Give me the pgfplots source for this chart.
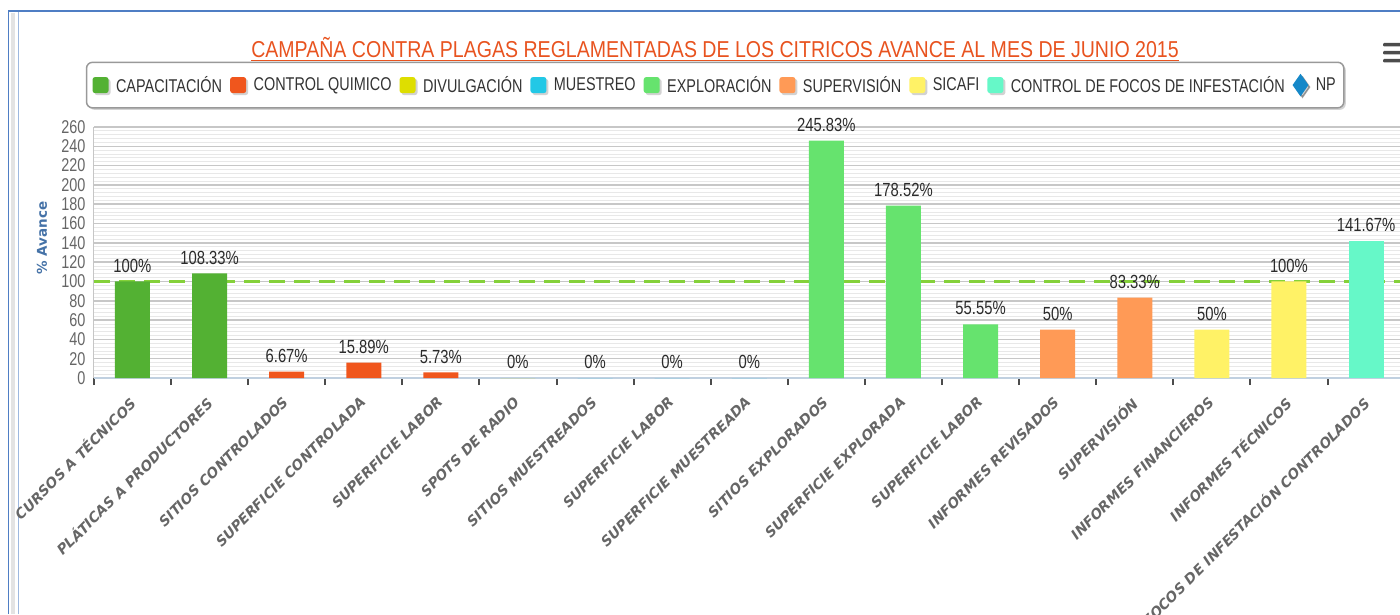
\documentclass[border=0pt]{standalone}
\usepackage{fontspec}
\setmainfont{Liberation Sans}
\newfontfamily\cond{Liberation Sans}[FakeStretch=0.78]
\newfontfamily\condt{Liberation Sans}[FakeStretch=0.85]
\newfontfamily\dv{DejaVu Sans}
\newfontfamily\dvsl{DejaVu Sans}[FakeSlant=0.2]
\usepackage{pgfplots}
\pgfplotsset{compat=1.18}
\usetikzlibrary{shadows}
\definecolor{capgreen}{HTML}{53B133}
\definecolor{cqred}{HTML}{F0561D}
\definecolor{divyel}{HTML}{DEDE00}
\definecolor{muecyan}{HTML}{22C8E6}
\definecolor{explgreen}{HTML}{66E36E}
\definecolor{supor}{HTML}{FF9A56}
\definecolor{sicyel}{HTML}{FFF266}
\definecolor{focaqua}{HTML}{66F8C8}
\definecolor{npblue}{HTML}{1688C8}
\definecolor{titlecol}{HTML}{E8531F}
\definecolor{dashgreen}{HTML}{85D13A}
\definecolor{tickgray}{HTML}{666666}
\definecolor{labcol}{HTML}{2B2B2B}
\definecolor{legtext}{HTML}{333333}
\definecolor{legborder}{HTML}{999999}
\definecolor{ylabblue}{HTML}{4572A7}
\definecolor{axisblue}{HTML}{C0D0E0}
\definecolor{frameblue}{HTML}{4F7EC4}
\pgfplotsset{
 mybar/.style={fill=#1, draw=none, bar width=35pt, bar shift=0pt,
   point meta=explicit symbolic,
   nodes near coords={\pgfplotspointmeta\%},
   nodes near coords style={font=\cond\fontsize{19}{19}\selectfont, text=labcol, anchor=south, inner sep=0pt, yshift=9pt},
   legend image code/.code={\fill[#1, rounded corners=2.5pt] (0pt,-8pt) rectangle (16pt,8pt);}},
}
\begin{document}
\begin{tikzpicture}
\useasboundingbox (0pt,0pt) rectangle (1400pt,614pt);
% frame
\fill[gray!22] (11pt,0pt) rectangle (15pt,601pt);
\draw[frameblue, line width=1.5pt] (8.5pt,0pt) -- (8.5pt,603pt) -- (1400pt,603pt);
\draw[frameblue!55, line width=1.5pt] (18.5pt,0pt) -- (18.5pt,602pt);
% title
\node[font=\condt\fontsize{23}{23}\selectfont, text=titlecol, anchor=base, inner sep=0pt] (t) at (715pt,556pt) {CAMPAÑA CONTRA PLAGAS REGLAMENTADAS DE LOS CITRICOS AVANCE AL MES DE JUNIO 2015};
\draw[titlecol, line width=1pt] ([yshift=-2.5pt]t.base west) -- ([yshift=-2.5pt]t.base east);
% menu icon
\fill[gray!60!black, rounded corners=1pt] (1383pt,567.5pt) rectangle (1402pt,571pt);
\fill[gray!60!black, rounded corners=1pt] (1383pt,559.5pt) rectangle (1402pt,563pt);
\fill[gray!60!black, rounded corners=1pt] (1383pt,551.5pt) rectangle (1402pt,555pt);
% y label
\node[rotate=90, font=\dv\bfseries\fontsize{13.5}{14}\selectfont, text=ylabblue] at (42pt,376pt) {\% Avance};
\begin{axis}[
  at={(93.9pt,236pt)}, anchor=south west,
  scale only axis, width=1310.7pt, height=251pt,
  xmin=-0.5, xmax=16.5, ymin=0, ymax=260,
  ybar,
  axis x line*=bottom, axis y line*=left,
  x axis line style={draw=axisblue, line width=2pt, -},
  y axis line style={draw=gray!45, line width=1pt, -},
  xtick={0,...,16},
  xticklabels={CURSOS A TÉCNICOS, PLÁTICAS A PRODUCTORES, SITIOS CONTROLADOS, SUPERFICIE CONTROLADA, SUPERFICIE LABOR, SPOTS DE RADIO, SITIOS MUESTREADOS, SUPERFICIE LABOR, SUPERFICIE MUESTREADA, SITIOS EXPLORADOS, SUPERFICIE EXPLORADA, SUPERFICIE LABOR, INFORMES REVISADOS, SUPERVISIÓN, INFORMES FINANCIEROS, INFORMES TÉCNICOS, FOCOS DE INFESTACIÓN CONTROLADOS},
  xticklabel style={font=\dvsl\bfseries\fontsize{14}{15}\selectfont, text=tickgray, yshift=-14pt, xshift=-5pt, rotate=45, anchor=north east, inner sep=0pt},
  major x tick style={draw=none},
  minor xtick={-0.5,0.5,...,16.5},
  minor x tick style={draw=black!70, line width=2pt},
  minor tick length=7pt,
  tick align=outside,
  ytick={0,20,...,260},
  minor y tick num=4,
  y tick style={draw=none},
  ymajorgrids, yminorgrids,
  major grid style={draw=black!22, line width=1.5pt},
  minor grid style={draw=black!9, line width=0.8pt},
  yticklabel style={font=\cond\fontsize{18.5}{18.5}\selectfont, text=tickgray, inner sep=0pt, xshift=-4pt},
  /pgf/number format/assume math mode=true,
  legend columns=9,
  legend style={at={(0.474,1.167)}, anchor=center, draw=legborder, line width=1.5pt, rounded corners=6pt, fill=white,
    drop shadow={shadow xshift=2pt, shadow yshift=-2pt, opacity=0.35},
    font=\cond\fontsize{18.5}{18.5}\selectfont, nodes={text=legtext},
    inner xsep=6pt, inner ysep=12pt,
    /tikz/every odd column/.append style={column sep=5.5pt},
    /tikz/every even column/.append style={column sep=6pt}},
  clip=false,
]
\addplot[sharp plot, forget plot, draw=dashgreen, line width=3.5pt, dash pattern=on 16pt off 9pt, mark=none] coordinates {(-0.5,100) (16.5,100)};
\addplot[mybar=capgreen] coordinates {(0,100) [100] (1,108.33) [108.33]};
\addlegendentry{CAPACITACIÓN}
\addplot[mybar=cqred] coordinates {(2,6.67) [6.67] (3,15.89) [15.89] (4,5.73) [5.73]};
\addlegendentry{CONTROL QUIMICO}
\addplot[mybar=divyel] coordinates {(5,0) [0]};
\addlegendentry{DIVULGACIÓN}
\addplot[mybar=muecyan] coordinates {(6,0) [0] (7,0) [0] (8,0) [0]};
\addlegendentry{MUESTREO}
\addplot[mybar=explgreen] coordinates {(9,245.83) [245.83] (10,178.52) [178.52] (11,55.55) [55.55]};
\addlegendentry{EXPLORACIÓN}
\addplot[mybar=supor] coordinates {(12,50) [50] (13,83.33) [83.33]};
\addlegendentry{SUPERVISIÓN}
\addplot[mybar=sicyel] coordinates {(14,50) [50] (15,100) [100]};
\addlegendentry{SICAFI}
\addplot[mybar=focaqua] coordinates {(16,141.67) [141.67]};
\addlegendentry{CONTROL DE FOCOS DE INFESTACIÓN}
\addlegendimage{legend image code/.code={\fill[npblue, sharp corners] (8pt,-10pt) -- (15pt,0pt) -- (8pt,10pt) -- (1pt,0pt) -- cycle;}}
\addlegendentry{NP}
\end{axis}
\end{tikzpicture}
\end{document}
